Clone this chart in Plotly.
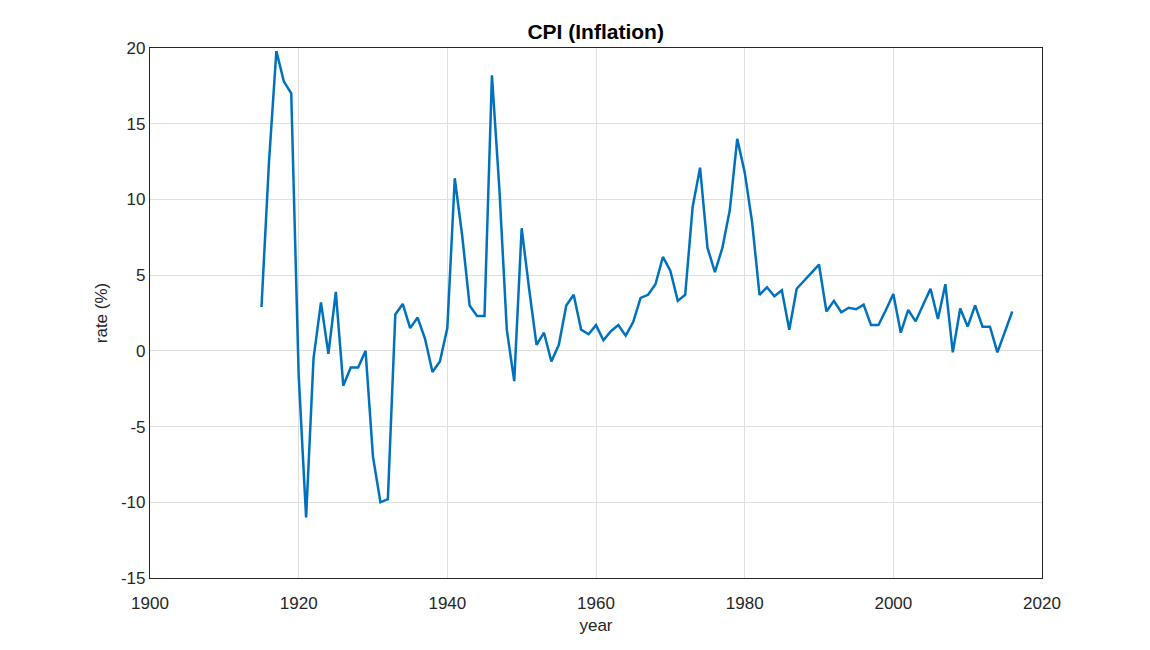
import plotly.graph_objects as go

# US CPI inflation, yearly rate (%)
years = list(range(1915, 2017))
rates = [
    2.9, 12.4, 19.8, 17.8, 17.0, -1.6, -11.0, -0.5, 3.2, -0.2,   # 1915-1924
    3.9, -2.3, -1.1, -1.1, 0.0, -7.0, -10.0, -9.8, 2.4, 3.1,     # 1925-1934
    1.5, 2.2, 0.8, -1.4, -0.7, 1.5, 11.4, 7.6, 3.0, 2.3,         # 1935-1944
    2.3, 18.2, 10.7, 1.4, -2.0, 8.1, 4.1, 0.4, 1.2, -0.7,        # 1945-1954
    0.4, 3.0, 3.7, 1.4, 1.1, 1.7, 0.7, 1.3, 1.7, 1.0,            # 1955-1964
    1.9, 3.5, 3.7, 4.4, 6.2, 5.3, 3.3, 3.7, 9.5, 12.1,           # 1965-1974
    6.8, 5.2, 6.8, 9.3, 14.0, 11.8, 8.5, 3.7, 4.2, 3.6,          # 1975-1984
    4.0, 1.4, 4.1, 4.65, 5.2, 5.7, 2.6, 3.3, 2.55, 2.85,         # 1985-1994
    2.75, 3.05, 1.7, 1.7, 2.7, 3.75, 1.2, 2.7, 1.95, 3.05,       # 1995-2004
    4.1, 2.1, 4.4, -0.1, 2.8, 1.6, 3.0, 1.6, 1.6, -0.1,          # 2005-2014
    1.3, 2.6,                                                    # 2015-2016
]

x_ticks = [1900, 1920, 1940, 1960, 1980, 2000, 2020]
y_ticks = [-15, -10, -5, 0, 5, 10, 15, 20]
y_tick_labels = ["-15", "-10", "-5", "0", "5", "10", "15", "20"]

fig = go.Figure()
fig.add_trace(go.Scatter(
    x=years,
    y=rates,
    mode='lines',
    line=dict(color='#0072BD', width=2.5),
    showlegend=False
))

axis_style = dict(
    showline=True,
    mirror=True,
    linecolor='#262626',
    linewidth=1.2,
    showgrid=True,
    gridcolor='#dfdfdf',
    gridwidth=1,
    zeroline=False,
    ticks='',
    tickfont=dict(size=17, color='#262626'),
    title_font=dict(size=17, color='#262626'),
)

fig.update_layout(
    width=1150,
    height=650,
    title=dict(text="<b>CPI (Inflation)</b>", x=0.511, xanchor='center',
               y=0.963, yanchor='middle',
               font=dict(size=21, color='#000000')),
    font=dict(family="Liberation Sans, Arial, sans-serif"),
    plot_bgcolor='white',
    paper_bgcolor='white',
    margin=dict(l=142, r=116, t=40, b=80),
    xaxis=dict(range=[1900, 2020], tickvals=x_ticks, ticklabelstandoff=9,
               title=dict(text="year", standoff=7), **axis_style),
    yaxis=dict(range=[-15, 20], tickvals=y_ticks, ticktext=y_tick_labels,
               title=dict(text="rate (%)", standoff=8), **axis_style),
)

fig.write_html("out.html")
